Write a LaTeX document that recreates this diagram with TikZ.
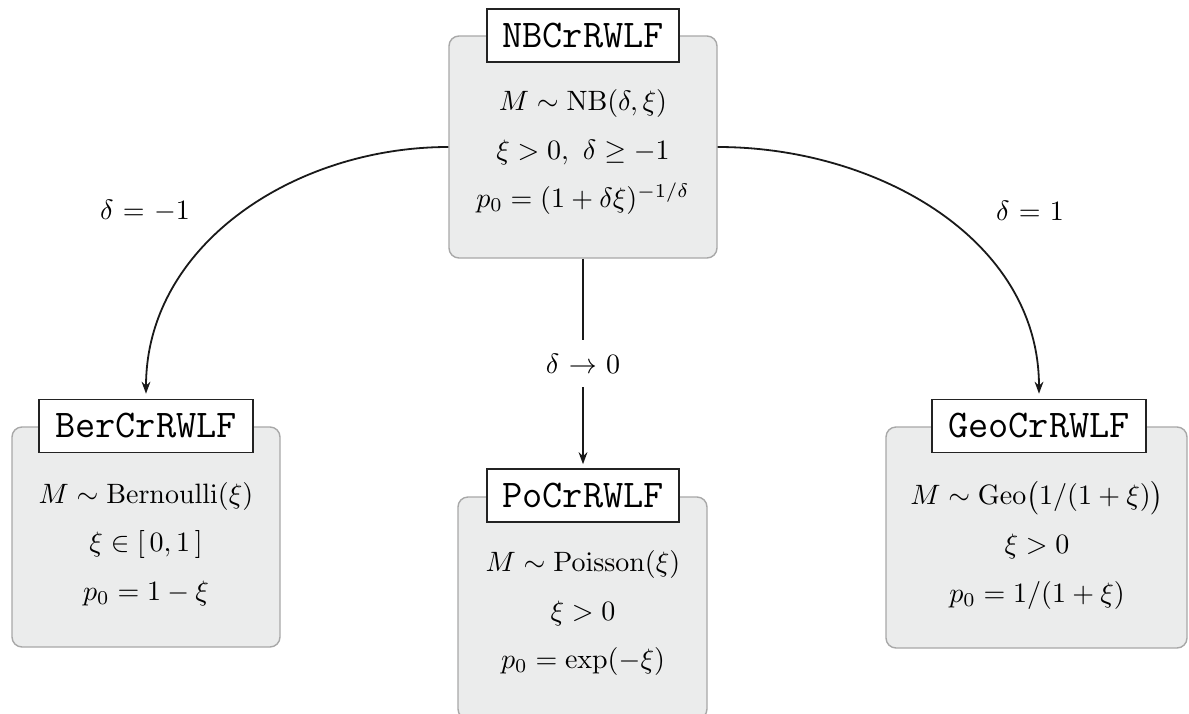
\documentclass[tikz,border=0pt]{standalone}
\usetikzlibrary{arrows.meta}
\definecolor{boxfill}{RGB}{235,236,236}
\definecolor{boxline}{RGB}{168,168,168}
\definecolor{titleline}{RGB}{35,35,35}
\begin{document}
\begin{tikzpicture}[x=0.5pt,y=-0.5pt,
  graybox/.style={draw=boxline, fill=boxfill, rounded corners=5pt, line width=0.7pt, inner sep=0pt},
  titlebox/.style={draw=titleline, fill=white, line width=0.8pt, font=\ttfamily\fontsize{19.6}{22}\selectfont, minimum height=26.5pt, inner sep=0pt},
  mtext/.style={align=center, font=\fontsize{10}{17.4}\selectfont, scale=1.4, inner sep=0pt},
  conn/.style={line width=0.9pt, draw=black!90, -{Stealth[length=6pt,width=4.4pt]}}
]
\useasboundingbox (0,0) rectangle (1189,713);
\clip (0,0) rectangle (1189,713);

% gray boxes
\node[graybox, minimum width=134pt, minimum height=111pt] (nbbox) at (583,147) {};
\node[graybox, minimum width=134pt, minimum height=110pt] (berbox) at (146,537) {};
\node[graybox, minimum width=124.5pt, minimum height=111pt] (pobox) at (582.5,608) {};
\node[graybox, minimum width=150.5pt, minimum height=110.5pt] (geobox) at (1036.5,537.5) {};

% title boxes
\node[titlebox, minimum width=96pt] (nb) at (583,35.5) {NBCrRWLF};
\node[titlebox, minimum width=107pt] (ber) at (146,426) {BerCrRWLF};
\node[titlebox, minimum width=96pt] (po) at (583,495.5) {PoCrRWLF};
\node[titlebox, minimum width=107pt] (geo) at (1039,426) {GeoCrRWLF};

% contents
\node[mtext] (nbtxt) at (583,152) {$M\sim\mathrm{NB}(\delta,\xi)$\\ $\xi>0,\ \delta\geq-1$\\ $p_0=(1+\delta\xi)^{-1/\delta}$};
\node[mtext] (bertxt) at (146,544) {$M\sim\mathrm{Bernoulli}(\xi)$\\ $\xi\in[\,0,1\,]$\\ $p_0=1-\xi$};
\node[mtext] (potxt) at (583,613) {$M\sim\mathrm{Poisson}(\xi)$\\ $\xi>0$\\ $p_0=\exp(-\xi)$};
\node[mtext] (geotxt) at (1037,545) {$M\sim\mathrm{Geo}\big(1/(1+\xi)\big)$\\ $\xi>0$\\ $p_0=1/(1+\xi)$};

% connectors
\draw[conn, shorten >=2.5pt] (nbbox.west) to[out=180,in=90] (ber.north);
\draw[conn, shorten >=2.5pt] (nbbox.east) to[out=0,in=90] (geo.north);
\draw[conn, shorten >=2pt] (nbbox.south) -- node[mtext, fill=white, inner xsep=1pt, inner ysep=5pt] (lblc) {$\delta$ $\to$ $0$} (po.north);

% side labels
\node[mtext] (lbll) at (145,211) {$\delta$ = $-1$};
\node[mtext] (lblr) at (1030,211) {$\delta$ = $1$};
\end{tikzpicture}
\end{document}
